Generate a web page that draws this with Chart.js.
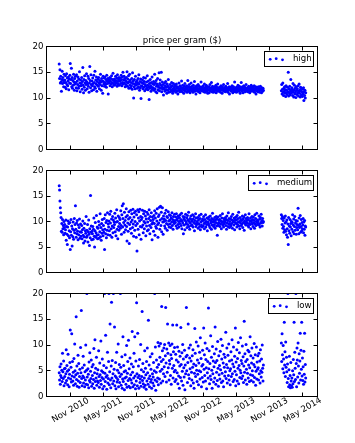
<!DOCTYPE html>
<html><head><meta charset="utf-8">
<script src="https://cdn.jsdelivr.net/npm/chart.js@4.4.0/dist/chart.umd.min.js"></script>
<style>
html,body{margin:0;padding:0;background:#fff;}
#wrap{position:relative;width:355px;height:443px;background:#fff;}
canvas{position:absolute;left:0;top:0;}
</style></head><body>
<div id="wrap">
<canvas id="c1" width="355" height="443"></canvas>
<canvas id="c2" width="355" height="443"></canvas>
<canvas id="c3" width="355" height="443"></canvas>
</div>
<script>
// ---------------- data ----------------
const chartTitle = 'price per gram ($)';
const seriesNames = ['high', 'medium', 'low'];
// sample periods (values spread evenly over each period, one sample about every 2 days)
const period1 = ['2010-08-31', '2013-09-28'];
const period2 = ['2014-01-05', '2014-05-19'];
const xRange = ['2010-06-22', '2014-07-23'];
const tickDates = ['2010-11-01','2011-05-01','2011-11-01','2012-05-01','2012-11-01','2013-05-01','2013-11-01','2014-05-01'];
const tickLabels = ['Nov 2010','May 2011','Nov 2011','May 2012','Nov 2012','May 2013','Nov 2013','May 2014'];
const yTicks = [0, 5, 10, 15, 20];

const high_p1 = [
16.6,13.8,15.5,12.9,14.2,13.1,11.3,13.6,15.2,12.8,14.0,13.4,12.2,14.6,13.0,
13.5,12.1,14.3,13.0,11.8,14.7,12.6,13.9,12.4,13.3,14.1,11.6,13.7,12.9,14.4,
16.7,12.8,13.6,15.8,12.2,14.0,11.9,13.4,12.5,14.6,13.1,11.5,13.8,12.7,14.2,
13.0,12.0,14.5,11.4,13.3,12.6,14.1,11.9,13.7,12.3,15.1,12.9,11.2,13.5,12.4,
12.8,14.0,11.7,13.2,15.9,12.5,11.0,13.6,12.1,14.3,12.9,11.5,13.4,12.6,14.7,
13.1,11.8,12.7,14.2,12.3,13.8,11.1,12.9,16.1,13.4,12.0,14.5,12.6,11.4,13.3,
12.4,13.9,12.8,11.6,14.4,13.0,12.2,15.2,11.9,13.5,12.7,14.1,11.3,13.2,12.5,
13.7,12.3,14.0,12.9,11.8,13.4,12.6,14.6,13.1,11.5,13.8,12.4,13.3,10.9,14.2,
13.2,12.7,13.9,12.3,14.1,13.0,12.6,13.6,12.1,14.4,13.3,12.8,13.8,10.8,13.1,
13.5,12.9,14.0,12.4,13.3,13.8,12.7,14.3,13.0,12.2,13.6,14.8,12.8,13.4,12.5,
13.7,13.1,12.6,14.2,13.4,12.9,13.9,12.3,14.5,13.2,12.7,13.6,14.0,12.5,13.3,
13.9,13.3,12.8,14.4,13.6,12.4,14.1,13.0,15.0,12.7,13.5,14.2,12.9,13.8,12.2,
13.4,12.6,14.0,13.1,15.1,12.3,13.7,12.9,14.3,11.9,13.2,14.6,12.5,13.5,12.0,
13.0,12.4,13.8,11.7,14.9,12.8,13.3,10.0,12.2,13.6,12.7,11.8,14.2,12.5,13.1,
12.6,13.4,11.9,12.9,13.8,12.2,14.5,12.7,11.5,13.2,12.0,13.7,9.9,12.4,13.0,
12.3,13.5,11.8,12.8,14.0,12.1,13.2,11.4,12.6,13.9,12.4,11.7,13.1,12.0,14.3,
12.5,11.6,13.3,12.2,9.7,12.8,11.9,13.6,12.4,11.3,13.0,12.1,14.1,11.7,12.7,
12.0,13.2,11.5,12.6,14.6,11.8,12.9,11.2,13.4,12.3,11.0,12.7,13.8,11.6,12.4,
12.1,14.9,11.4,12.8,13.5,11.9,12.5,15.0,11.2,12.2,13.1,11.7,12.6,10.6,12.0,
11.8,12.9,11.3,12.4,13.2,11.6,12.1,10.9,12.7,11.5,12.3,13.6,11.1,12.0,11.7,
11.9,12.6,11.2,12.2,11.6,13.0,11.4,12.4,10.9,11.8,12.8,11.3,12.1,11.7,12.5,
11.6,12.3,11.1,12.7,11.9,11.4,12.2,10.8,12.0,11.5,12.9,11.7,11.2,12.4,11.8,
12.1,11.4,13.3,11.9,11.2,12.5,11.7,12.0,10.9,12.3,11.5,12.8,11.8,11.3,12.2,
11.7,12.4,11.1,12.0,13.4,11.6,12.2,11.3,12.6,11.8,11.0,12.1,11.5,12.9,11.9,
11.4,12.3,11.8,11.1,12.5,11.6,12.0,13.2,11.3,11.9,12.2,10.8,11.7,12.4,11.5,
12.0,11.3,12.6,11.7,11.2,12.3,11.8,11.0,12.1,11.5,13.1,11.9,11.4,12.2,11.6,
11.8,12.4,11.2,11.9,12.7,11.5,11.1,12.1,11.7,12.5,11.3,11.9,12.2,10.9,11.6,
11.5,12.2,11.0,11.8,12.6,11.4,12.0,11.7,13.0,11.2,11.9,12.3,11.6,11.1,12.1,
11.7,11.2,12.2,11.5,11.9,12.5,11.0,11.8,12.1,11.4,12.7,11.6,11.3,12.0,11.8,
11.4,12.1,11.7,11.1,12.4,11.6,11.9,10.9,12.2,11.5,11.8,12.6,11.3,11.7,12.0,
11.6,11.2,12.3,11.8,11.4,12.0,11.5,12.8,11.1,11.9,11.6,12.2,10.8,11.7,12.1,
11.5,12.0,11.3,11.8,12.4,11.6,11.0,11.9,12.2,11.4,11.7,13.1,11.2,11.8,12.0,
11.6,11.1,12.1,11.7,11.4,12.5,11.9,11.3,11.8,12.3,11.5,10.9,12.0,11.6,13.0,
11.8,11.3,12.2,11.6,11.0,11.9,12.4,11.5,11.7,12.1,11.2,11.8,12.6,11.4,11.9,
11.5,12.0,11.2,11.7,12.3,11.4,11.8,11.0,12.1,11.6,11.3,12.5,11.9,11.5,12.2,
11.7,11.3,12.0,11.6,12.4,11.1,11.8,11.5,12.2,10.8,11.9,11.4,12.1,11.7,11.2,
11.6,12.2,11.4,11.9,11.1,11.7,12.3,11.5,11.8,11.0,12.0,11.6,11.3,11.9,11.5
];
const high_p2 = [
11.4,12.6,10.8,11.7,12.9,11.1,10.5,11.9,11.3,12.2,10.9,11.6,10.3,12.4,11.0,
11.5,10.7,12.1,11.2,15.0,10.4,11.8,11.0,12.3,10.6,11.4,13.6,10.9,11.7,
12.0,11.3,10.5,12.8,11.1,10.2,11.6,12.5,10.8,11.9,11.2,10.1,12.2,11.5,10.7,
11.8,11.0,12.4,10.4,11.3,12.7,10.9,11.6,10.2,12.1,11.4,10.6,11.9,11.1,10.3,
11.7,10.8,12.0,9.5,11.2,10.5,11.5,10.0,11.0
];

const medium_p1 = [
17.0,16.2,14.0,12.7,11.7,10.8,8.1,9.6,7.9,10.4,8.6,9.2,7.4,10.0,8.8,
9.4,7.7,8.4,10.3,6.3,9.0,7.5,5.5,8.9,10.1,7.2,9.6,8.2,6.8,9.8,
4.5,8.0,10.4,7.3,9.1,5.2,8.6,7.0,9.9,6.5,8.3,10.6,7.8,9.4,13.1,
8.5,6.9,9.7,7.6,10.2,8.1,6.4,9.3,7.4,8.8,10.5,6.7,8.0,9.5,7.1,
7.9,9.2,6.6,8.4,10.1,7.3,5.8,8.7,7.0,9.6,6.2,8.2,7.7,11.0,6.9,
8.3,7.2,9.4,6.0,8.0,10.3,7.5,5.3,8.6,6.8,15.1,7.9,9.1,6.4,8.1,
7.6,9.0,6.5,8.5,10.7,7.1,5.0,8.2,9.8,6.9,7.8,11.2,7.3,8.9,6.6,
8.7,7.4,10.0,6.7,9.3,8.0,11.5,7.0,8.8,6.3,9.6,7.7,10.4,8.4,7.2,
9.2,7.9,10.6,4.5,8.5,11.3,7.6,9.8,6.8,10.2,8.3,11.7,7.4,9.5,8.9,
10.1,8.2,11.4,7.3,9.7,12.0,8.6,10.5,6.9,9.1,11.0,7.8,10.3,8.8,9.9,
9.4,11.6,8.0,10.7,7.2,9.9,12.3,8.5,10.0,6.6,11.1,9.0,8.3,10.8,9.6,
10.4,8.7,12.1,9.2,7.5,11.3,13.1,8.9,10.6,13.5,9.8,7.9,11.8,9.3,10.2,
8.4,10.9,12.5,9.0,6.2,11.2,9.7,8.1,10.5,11.9,5.7,9.4,10.8,8.6,12.2,
9.9,7.7,11.5,10.3,8.8,12.4,9.5,7.1,10.9,11.7,8.3,10.0,12.0,9.2,6.9,
11.3,4.2,9.6,12.3,8.5,10.7,11.9,7.4,10.1,12.4,9.0,11.0,6.5,10.4,8.9,
10.8,12.2,9.3,7.8,11.5,10.0,8.6,12.0,9.7,11.1,7.2,10.5,9.1,11.8,8.2,
9.9,11.4,8.4,10.6,12.3,9.2,7.6,11.0,10.2,8.8,11.7,9.5,6.4,10.9,9.8,
10.4,8.1,11.2,9.6,12.1,7.3,10.7,9.0,11.6,8.7,10.1,12.5,9.4,6.9,11.0,
9.7,11.3,12.8,8.5,10.3,13.0,9.2,11.8,8.0,10.6,12.7,9.9,7.5,11.1,10.0,
10.5,9.1,11.6,8.7,10.2,12.2,9.6,11.0,8.3,10.8,9.4,11.9,10.1,8.9,11.3,
10.3,9.5,11.2,8.8,10.7,9.9,11.7,9.2,10.4,8.5,11.0,10.0,9.6,11.4,10.2,
9.8,10.9,9.1,11.5,10.3,8.7,10.6,9.4,11.1,10.0,8.9,10.8,9.6,11.3,10.1,
10.4,9.2,11.6,8.6,10.1,9.7,11.0,7.6,10.5,9.3,10.9,8.4,10.2,11.4,9.5,
9.9,10.7,8.8,11.2,9.4,10.3,11.8,9.0,10.0,8.5,10.6,9.7,11.1,9.2,10.4,
10.1,9.3,11.3,8.9,10.5,9.8,11.0,8.2,10.2,9.6,11.5,9.0,10.7,9.4,10.0,
9.7,10.8,8.7,10.3,9.5,11.2,9.0,10.6,8.4,9.9,11.4,9.3,10.1,8.9,10.5,
10.2,9.1,11.0,9.6,8.6,10.4,9.8,11.3,8.9,10.0,9.4,10.7,8.2,9.9,10.6,
9.5,10.9,9.2,10.3,8.8,11.1,9.7,10.1,8.5,10.6,9.3,11.6,9.9,10.4,9.0,
10.0,9.4,10.8,8.7,10.3,9.8,11.0,9.1,10.5,7.3,9.6,10.9,9.2,10.2,9.7,
10.4,9.0,11.2,9.5,10.1,8.6,10.7,9.8,11.5,9.3,10.0,8.9,10.6,9.6,10.3,
9.9,10.8,9.2,10.4,8.5,11.1,9.7,10.2,9.0,11.7,9.5,10.6,8.8,10.0,9.4,
10.5,9.1,11.0,9.6,10.3,8.7,11.4,9.9,10.1,9.3,10.7,8.4,10.4,9.8,10.9,
9.6,10.3,8.9,11.2,9.4,10.6,9.9,11.8,9.1,10.0,8.6,10.8,9.7,10.4,9.2,
10.2,9.5,11.1,8.8,10.5,9.8,10.9,8.3,10.1,9.6,11.3,9.3,10.6,9.9,10.3,
9.7,10.8,9.2,10.4,8.9,11.5,9.6,10.1,9.4,10.7,8.6,10.2,9.9,11.0,9.5,
10.4,9.0,10.9,9.7,10.2,8.7,11.3,9.5,10.6,9.2,10.0,11.6,9.8,10.3,9.4,
10.1,9.6,11.1,9.3,10.5,8.9,10.8,9.7,11.4,9.9,10.2,9.1,10.6,9.8,10.0
];
const medium_p2 = [
11.3,10.6,9.4,11.0,8.7,10.2,9.0,7.9,10.7,8.4,9.7,11.1,8.1,9.9,7.4,
10.3,8.6,6.9,9.5,5.5,10.8,8.2,9.1,7.7,10.4,8.9,9.6,7.2,10.0,
8.5,9.8,11.3,8.0,9.3,10.5,7.6,9.0,11.0,8.3,9.7,10.2,7.5,8.8,9.4,
10.1,8.4,12.6,9.2,7.6,10.7,8.8,9.5,11.2,7.9,9.0,10.4,8.2,9.8,8.6,
9.3,10.6,7.8,9.9,8.5,10.2,7.3,9.1,8.9
];

const low_p1 = [
4.6,3.2,5.8,2.4,4.1,6.3,3.7,5.1,2.9,8.4,4.8,3.5,6.9,2.1,5.4,
3.9,5.5,2.6,4.4,9.1,3.1,6.0,4.9,2.3,8.2,3.6,5.2,1.9,4.3,6.6,
12.9,3.4,5.7,2.8,12.2,4.0,6.8,3.0,4.7,2.2,7.4,3.8,10.2,5.0,2.5,
4.2,15.5,3.3,5.9,2.0,4.5,8.0,3.0,6.4,1.8,3.9,5.3,2.7,9.5,4.6,
16.7,3.5,2.1,5.6,4.0,7.8,2.6,3.7,6.1,1.9,4.8,3.2,10.0,2.4,5.1,
20.0,3.8,2.3,5.4,4.3,1.7,6.7,3.1,8.5,2.8,4.9,3.5,7.1,2.0,5.8,
4.1,2.5,6.2,3.3,9.3,1.6,4.6,11.0,2.9,5.5,3.6,7.6,2.2,4.4,3.0,
5.2,2.7,8.9,3.9,1.8,6.5,4.2,3.1,10.8,2.4,5.0,3.7,7.3,1.5,4.7,
3.4,6.0,2.0,20.0,4.5,2.9,11.9,3.8,5.6,1.4,4.1,8.6,2.6,3.5,6.8,
20.0,2.3,4.8,14.1,3.2,1.7,5.9,18.3,3.6,7.0,2.5,4.4,20.0,3.0,5.3,
13.5,2.1,4.0,6.6,1.5,3.7,8.6,2.8,5.1,3.3,10.2,1.9,4.6,6.2,2.7,
3.9,20.0,5.7,2.2,4.3,7.7,1.6,3.4,11.6,2.9,6.0,4.8,1.3,3.6,8.1,
5.0,2.4,3.8,9.9,1.8,4.5,6.8,3.1,10.9,2.0,5.4,3.5,7.5,1.7,4.2,
3.2,6.3,2.6,12.6,4.7,1.9,5.8,3.6,8.4,2.3,11.6,4.0,1.5,6.9,3.0,
18.2,4.4,2.1,12.3,3.7,5.9,1.6,4.1,7.2,2.7,3.4,10.1,2.0,5.2,3.9,
16.5,3.1,6.4,2.5,4.8,1.8,3.6,8.9,2.2,5.5,4.2,1.4,6.8,3.0,9.4,
4.6,2.4,14.8,3.5,6.1,1.9,4.0,7.7,2.8,5.3,3.3,1.6,8.3,4.4,2.6,
3.8,6.6,2.1,5.0,20.0,3.2,9.6,1.2,4.7,7.1,2.9,5.7,3.6,10.5,2.3,
6.2,9.8,3.4,7.6,4.9,10.3,2.6,6.8,17.5,5.3,8.9,3.0,7.2,4.4,9.4,
5.8,10.1,3.9,7.9,17.3,6.5,2.8,9.2,4.7,14.1,8.4,5.6,10.4,3.2,7.0,
6.3,9.9,4.1,8.1,2.4,7.4,10.2,5.5,13.9,3.6,8.7,6.0,4.8,9.5,2.9,
5.1,8.2,3.3,7.1,13.9,4.6,9.6,2.5,6.7,4.0,8.8,1.6,5.9,7.8,3.7,
13.4,6.2,3.0,8.5,4.9,10.1,2.2,7.3,5.6,3.8,9.0,1.3,6.1,4.4,7.7,
17.3,5.0,8.0,2.7,6.6,14.1,4.2,9.4,3.5,7.5,5.4,10.0,2.1,6.9,4.7,
3.2,7.9,5.7,9.1,2.6,6.3,1.6,4.5,13.2,8.4,3.9,6.0,10.6,5.1,2.9,
7.1,4.3,9.8,2.3,6.5,5.0,8.6,3.4,11.4,4.8,7.4,1.9,5.9,3.7,9.0,
6.2,2.8,13.3,5.3,8.1,4.1,10.4,3.0,7.2,5.6,1.5,9.3,4.6,6.8,3.6,
17.2,5.4,8.9,2.5,6.4,4.0,11.8,3.3,7.6,5.1,1.6,9.7,4.4,6.9,2.8,
5.8,8.3,3.6,13.5,6.6,2.4,9.2,4.7,7.0,3.1,10.7,5.5,2.0,7.9,4.2,
6.0,3.4,8.8,5.2,11.1,2.7,7.3,4.5,9.9,3.0,6.5,1.9,8.2,5.7,4.0,
7.6,4.8,12.5,3.5,6.2,9.4,2.6,5.6,8.0,4.1,10.2,3.2,6.9,5.0,2.3,
5.4,8.7,3.9,7.1,11.0,4.4,6.3,2.9,9.6,5.8,3.3,7.8,4.9,13.3,2.1,
6.7,4.2,9.1,3.0,7.4,5.5,10.5,2.5,6.0,8.5,3.7,5.1,11.4,4.6,7.0,
3.5,6.4,9.8,4.0,7.7,2.7,5.9,14.6,4.7,8.3,3.2,6.8,10.1,5.3,2.4,
7.2,4.5,9.0,3.6,6.1,8.7,2.9,5.6,11.6,4.2,7.9,3.1,6.5,9.4,5.0,
4.1,7.5,2.8,6.2,10.3,3.7,5.8,8.1,2.2,4.9,9.6,3.4,6.7,5.3,7.9,
5.6,3.2,8.4,4.4,6.9,2.6,9.1,5.0,3.8,7.3,4.7,10.0,5.5,3.0,6.1
];
const low_p2 = [
10.4,6.8,12.2,8.1,5.4,9.9,7.3,4.6,14.4,6.1,8.7,3.9,10.6,5.7,7.6,
4.8,2.7,6.3,20.0,3.5,1.9,5.2,7.8,2.3,4.1,1.7,6.6,3.0,2.1,
3.6,1.8,5.0,2.5,7.2,4.2,14.4,2.9,8.6,5.5,3.3,20.0,6.4,1.9,9.4,
7.1,3.8,10.4,5.9,2.6,8.3,4.5,6.9,12.3,3.2,9.0,5.3,14.4,4.0,7.5,
3.1,5.8,2.4,8.8,4.3,12.3,2.8,6.2,3.6
];

// ---------------- helpers ----------------
const FONT = 'DejaVu Sans';
const FS = 8.6;
function dayNum(s) { return Date.parse(s + 'T00:00:00Z') / 86400000; }
function toPoints(values, period) {
  const a = dayNum(period[0]), b = dayNum(period[1]), n = values.length;
  return values.map((v, i) => ({ x: a + (b - a) * i / (n - 1), y: v }));
}
const tickDays = tickDates.map(dayNum);

// frame, inward ticks and legend (matplotlib look)
const framePlugin = {
  id: 'frame',
  afterDatasetsDraw(chart, args, opts) {
    const { ctx, chartArea: { left, right, top, bottom }, scales: { x, y } } = chart;
    ctx.save();
    ctx.strokeStyle = '#000';
    ctx.lineWidth = 1;
    ctx.strokeRect(left, top, right - left, bottom - top);
    ctx.beginPath();
    tickDays.forEach(d => {
      const px = Math.round(x.getPixelForValue(d) - 0.5) + 0.5;
      ctx.moveTo(px, bottom); ctx.lineTo(px, bottom - 4);
      ctx.moveTo(px, top); ctx.lineTo(px, top + 4);
    });
    yTicks.forEach(v => {
      const py = Math.round(y.getPixelForValue(v) - 0.5) + 0.5;
      ctx.moveTo(left, py); ctx.lineTo(left + 4, py);
      ctx.moveTo(right, py); ctx.lineTo(right - 4, py);
    });
    ctx.stroke();
    // legend box
    ctx.font = FS + 'px "' + FONT + '"';
    const label = chart.data.datasets[0].label;
    const tw = ctx.measureText(label).width;
    const bR = Math.round(right - 4.5) + 0.5;
    const bT = Math.round(top + 4.5) + 0.5;
    const bH = 15;
    const bL = Math.round(bR - 2 - tw - 28.4) + 0.5;
    ctx.fillStyle = '#fff';
    ctx.fillRect(bL, bT, bR - bL, bH);
    ctx.strokeRect(bL, bT, bR - bL, bH);
    const cy = bT + bH / 2;
    ctx.fillStyle = '#0000ff';
    [5.7, 11.7, 18].forEach((dx, i) => {
      ctx.beginPath();
      ctx.arc(bL + dx, cy + [0.3, -0.3, 0.8][i], 1.4, 0, Math.PI * 2);
      ctx.fill();
    });
    ctx.fillStyle = '#000';
    ctx.textAlign = 'left';
    ctx.textBaseline = 'middle';
    ctx.fillText(label, bL + 28.4, cy);
    ctx.restore();
  }
};

// rotated x tick labels (centred under their ticks)
const xLabelPlugin = {
  id: 'xlabels',
  afterDraw(chart) {
    const { ctx, scales: { x } } = chart;
    ctx.save();
    ctx.font = FS + 'px "' + FONT + '"';
    ctx.fillStyle = '#000';
    ctx.textAlign = 'center';
    ctx.textBaseline = 'middle';
    tickDays.forEach((d, i) => {
      ctx.save();
      ctx.translate(x.getPixelForValue(d), 410.3);
      ctx.rotate(-Math.PI / 6);
      ctx.fillText(tickLabels[i], 0, 0);
      ctx.restore();
    });
    ctx.restore();
  }
};

const panels = [
  { id: 'c1', name: seriesNames[0], p1: high_p1, p2: high_p2, top: 46.5, bottom: 149.5, title: true },
  { id: 'c2', name: seriesNames[1], p1: medium_p1, p2: medium_p2, top: 170.5, bottom: 272.5 },
  { id: 'c3', name: seriesNames[2], p1: low_p1, p2: low_p2, top: 293.5, bottom: 396.5, xlabels: true }
];

panels.forEach(p => {
  const titleH = FS * 1.2 + 1;
  const plugins = [framePlugin];
  if (p.xlabels) plugins.push(xLabelPlugin);
  new Chart(document.getElementById(p.id), {
    type: 'scatter',
    data: {
      datasets: [{
        label: p.name,
        data: toPoints(p.p1, period1).concat(toPoints(p.p2, period2)),
        backgroundColor: '#0000ff',
        borderColor: '#0000ff',
        borderWidth: 0,
        pointRadius: 1.5,
        pointHoverRadius: 1.5
      }]
    },
    options: {
      responsive: false,
      animation: false,
      events: [],
      layout: { padding: { left: 0, right: 37.5, top: p.title ? p.top - titleH : p.top, bottom: 443 - p.bottom } },
      plugins: {
        legend: { display: false },
        tooltip: { enabled: false },
        title: {
          display: !!p.title,
          text: chartTitle,
          fullSize: false,
          color: '#000',
          font: { family: FONT, size: FS, weight: 'normal' },
          padding: { top: 0, bottom: 1 }
        }
      },
      scales: {
        x: {
          type: 'linear',
          display: false,
          min: dayNum(xRange[0]),
          max: dayNum(xRange[1])
        },
        y: {
          min: 0, max: 20,
          afterBuildTicks: s => { s.ticks = yTicks.map(v => ({ value: v })); },
          afterFit: s => { s.width = 46.5; },
          grid: { display: false, drawTicks: false },
          border: { display: false },
          ticks: { color: '#000', padding: 3, font: { family: FONT, size: FS } }
        }
      }
    },
    plugins
  });
});
</script>
</body></html>
